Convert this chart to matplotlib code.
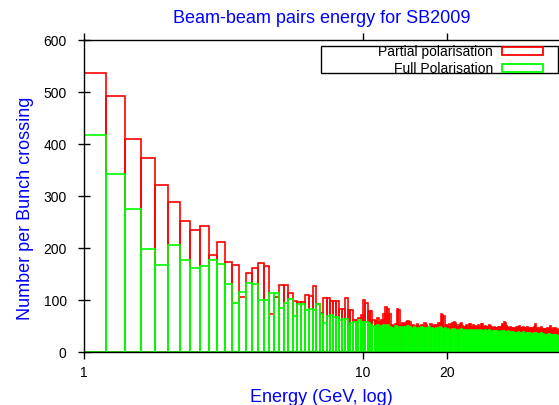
import numpy as np
import matplotlib
matplotlib.use("Agg")
import matplotlib.pyplot as plt
import matplotlib.patches as mpatches
from matplotlib.ticker import FixedLocator, NullLocator

plt.rcParams['font.family'] = ['Liberation Sans', 'DejaVu Sans']

# histogram bins: width 0.2 GeV starting at 1 GeV
bin_start = 1.0
bin_width = 0.2

# partial polarisation (red), per bin
partial = [
    536, 493, 410, 374, 321, 288, 251, 235, 242, 187, 211, 173, 167,
    105, 151, 162, 171, 166, 74, 105, 128, 128, 114,
    98, 97, 96, 110, 107, 126, 93, 75, 103, 103, 98, 98, 98, 83, 83, 103, 80, 80, 61, 61, 66, 72,
    100, 95, 79, 79, 62, 60, 65, 58, 62, 74,
    86, 83, 74, 52, 50, 54, 82, 80, 52, 56,
    54, 58, 60, 57, 50, 52, 48, 50, 53, 49,
    50, 52, 48, 55, 51, 47, 49, 53, 50, 48,
    52, 49, 51, 55, 56, 73, 72, 70, 50, 51,
    50, 48, 53, 51, 55, 56, 57, 55, 52, 49,
    51, 53, 56, 50, 47, 49, 48, 52, 50, 47, 53, 54, 49, 48, 51,
    48, 50, 47, 49, 51, 47, 48, 54, 55, 53, 49, 47, 50, 48, 46, 49, 51, 52, 50, 48, 46, 47, 49, 48, 47,
    47, 46, 48, 50, 47, 49, 45, 51, 53, 47, 57, 56, 55, 50, 48, 46, 47, 45, 48, 49, 47, 46, 48, 45, 47,
    45, 47, 49, 46, 44, 48, 50, 47, 45, 46, 48, 44, 47, 49, 46, 45, 47, 44, 46, 48, 45, 43, 46, 47, 44,
    46, 48, 45, 43, 47, 49, 51, 53, 47, 45, 44, 46, 43, 45, 47, 44, 42, 46, 48, 45, 43, 44, 46, 42, 45,
    44, 46, 43, 45, 47, 44, 42, 45, 48, 50, 46, 43, 44, 42, 45, 47, 43, 41, 44, 46, 43, 42, 45, 44, 43,
]

# full polarisation (green), per bin
full = [
    417, 343, 275, 198, 168, 206, 176, 162, 165, 176, 169, 130, 94,
    116, 132, 130, 100, 100, 114, 114, 85, 95, 101,
    70, 93, 93, 80, 82, 80, 93, 74, 55, 70, 72, 67, 67, 61, 64, 64, 49, 55, 58, 58, 61, 58,
    57, 58, 55, 52, 50, 48, 51, 47, 50, 52,
    50, 51, 48, 47, 45, 50, 48, 46, 49, 47,
    48, 46, 50, 49, 47, 45, 48, 46, 44, 47,
    46, 48, 45, 47, 44, 46, 48, 45, 47, 44,
    45, 47, 44, 46, 48, 47, 45, 44, 46, 43,
    42, 44, 41, 43, 45, 42, 44, 40, 43, 41,
    43, 41, 44, 40, 42, 43, 40, 42, 41, 39, 43, 42, 40, 41, 42,
    40, 42, 39, 41, 43, 40, 41, 42, 40, 41, 39, 40, 42, 38, 40, 41, 40, 42, 39, 40, 38, 41, 40, 39, 40,
    39, 40, 38, 41, 39, 37, 40, 38, 39, 41, 40, 38, 37, 39, 36, 38, 40, 37, 38, 36, 37, 39, 36, 38, 37,
    36, 38, 37, 35, 37, 39, 36, 38, 35, 37, 36, 34, 37, 38, 35, 36, 34, 37, 35, 36, 34, 35, 37, 34, 36,
    35, 36, 34, 33, 35, 37, 36, 35, 34, 36, 33, 35, 34, 32, 35, 34, 33, 35, 36, 34, 32, 34, 35, 33, 34,
    33, 35, 32, 34, 33, 31, 34, 35, 33, 32, 34, 31, 33, 32, 34, 33, 31, 32, 34, 33, 31, 32, 33, 31, 32,
]

x_ticks = [1, 10, 20]
x_tick_labels = ['1', '10', '20']
y_ticks = [0, 100, 200, 300, 400, 500, 600]

lefts = bin_start + bin_width * np.arange(len(partial))

fig = plt.figure(figsize=(5.59, 4.05), dpi=100)
ax = fig.add_axes([84 / 559, 53 / 405, 475 / 559, 312 / 405])

ax.bar(lefts, partial, width=bin_width, align='edge', fill=False,
       edgecolor='#ff0000', linewidth=1.2, zorder=2)
ax.bar(lefts, full, width=bin_width, align='edge', fill=False,
       edgecolor='#00ff00', linewidth=1.2, zorder=3)

ax.set_xscale('log')
ax.set_xlim(1, 50.4)
ax.set_ylim(0, 600)

ax.xaxis.set_major_locator(FixedLocator(x_ticks))
ax.xaxis.set_minor_locator(NullLocator())
ax.set_xticklabels(x_tick_labels)
ax.set_yticks(y_ticks)

ax.tick_params(axis='x', which='major', direction='out', length=5, width=1,
               labelsize=10, pad=5, top=True)
ax.tick_params(axis='y', which='major', direction='inout', length=9, width=1,
               labelsize=10, pad=8)
ax.spines['right'].set_visible(False)
for s in ['left', 'bottom', 'top']:
    ax.spines[s].set_linewidth(1.0)
    ax.spines[s].set_zorder(5)

ax.set_title('Beam-beam pairs energy for SB2009', color='#0000ff', fontsize=13, pad=12)
ax.set_xlabel('Energy (GeV, log)', color='#0000ff', fontsize=13)
ax.set_ylabel('Number per Bunch crossing', color='#0000ff', fontsize=13)
ax.xaxis.set_label_coords(0.5, -0.118)
ax.yaxis.set_label_coords(-0.105, 0.46)

# legend frame as in the original (wide box, entries on the right)
frame = mpatches.Rectangle((321 / 559, (405 - 73) / 405), (557.5 - 321) / 559, 27 / 405,
                           transform=fig.transFigure, facecolor='white',
                           edgecolor='black', linewidth=1.0, zorder=10)
fig.patches.append(frame)

handles = [mpatches.Patch(facecolor='white', edgecolor='#ff0000', linewidth=1.3),
           mpatches.Patch(facecolor='white', edgecolor='#00ff00', linewidth=1.3)]
leg = fig.legend(handles, ['Partial polarisation', 'Full Polarisation'],
                 loc='upper right', bbox_to_anchor=(543 / 559, (405 - 45) / 405),
                 bbox_transform=fig.transFigure, frameon=False, markerfirst=False,
                 fontsize=10, handlelength=2.95, handleheight=0.5,
                 handletextpad=0.65, labelspacing=0.2, borderpad=0,
                 borderaxespad=0)
leg.set_zorder(11)

fig.savefig('out.png', dpi=100)
